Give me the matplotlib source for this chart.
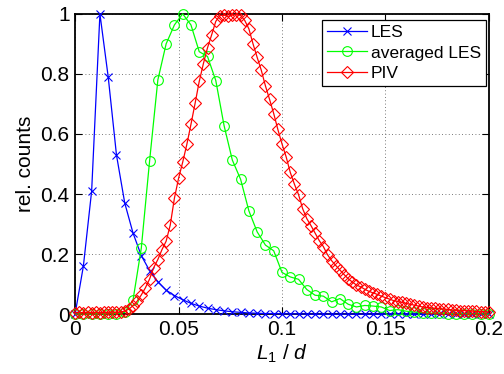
import numpy as np
import matplotlib
matplotlib.use("Agg")
import matplotlib.pyplot as plt
from matplotlib.ticker import FormatStrFormatter

plt.rcParams['font.family'] = ['Liberation Sans', 'DejaVu Sans']
plt.rcParams['mathtext.fontset'] = 'custom'
plt.rcParams['mathtext.rm'] = 'Liberation Sans'
plt.rcParams['mathtext.it'] = 'Liberation Sans:italic'

# LES and averaged LES sampled every 0.004, PIV every 0.002
x_les = np.linspace(0, 0.2, 51)
x_piv = np.linspace(0, 0.2, 101)

les = [0, 0.16, 0.41, 1.0, 0.79, 0.53, 0.37, 0.27, 0.195, 0.145,
       0.108, 0.08, 0.062, 0.048, 0.036, 0.027, 0.02, 0.015, 0.011, 0.008,
       0.006, 0.004, 0.003, 0.002, 0.002, 0.001, 0.001, 0.001, 0, 0,
       0, 0, 0, 0, 0, 0, 0, 0, 0, 0,
       0, 0, 0, 0, 0, 0, 0, 0, 0, 0, 0]

avg_les = [0, 0, 0, 0.001, 0.001, 0.002, 0.006, 0.047, 0.22, 0.51,
           0.78, 0.90, 0.963, 1.0, 0.963, 0.874, 0.858, 0.778, 0.628, 0.513,
           0.449, 0.344, 0.274, 0.23, 0.211, 0.139, 0.124, 0.116, 0.082, 0.063,
           0.06, 0.041, 0.052, 0.033, 0.024, 0.029, 0.027, 0.024, 0.012, 0.015,
           0.010, 0.007, 0.005, 0.003, 0.004, 0.002, 0.002, 0.001, 0.001, 0.001, 0]

piv = [0.005, 0.006, 0.005, 0.006, 0.005, 0.006, 0.005, 0.006, 0.006, 0.007,
       0.006, 0.007, 0.010, 0.017, 0.028, 0.043, 0.064, 0.088, 0.117, 0.155,
       0.182, 0.215, 0.243, 0.297, 0.386, 0.452, 0.506, 0.565, 0.632, 0.702,
       0.775, 0.834, 0.887, 0.930, 0.975, 0.994, 0.996, 0.992, 0.996, 0.997,
       0.995, 0.978, 0.950, 0.900, 0.855, 0.812, 0.760, 0.715, 0.668, 0.615,
       0.567, 0.524, 0.472, 0.433, 0.398, 0.351, 0.318, 0.295, 0.270, 0.245,
       0.225, 0.198, 0.178, 0.162, 0.147, 0.132, 0.118, 0.107, 0.097, 0.091,
       0.083, 0.076, 0.071, 0.066, 0.060, 0.055, 0.050, 0.045, 0.042, 0.039,
       0.036, 0.033, 0.030, 0.027, 0.024, 0.022, 0.021, 0.019, 0.018, 0.017,
       0.016, 0.014, 0.013, 0.012, 0.012, 0.011, 0.010, 0.009, 0.008, 0.008,
       0.007]

fig = plt.figure(figsize=(5.04, 3.74), dpi=100)
ax = fig.add_axes([0.149, 0.160, 0.821, 0.803])

ax.plot(x_les, les, color=(0, 0, 1), lw=0.9, marker='x', ms=6, mew=0.8,
        label='LES', clip_on=False, zorder=3)
ax.plot(x_les, avg_les, color=(0, 1, 0), lw=0.9, marker='o', ms=7, mew=0.8,
        mfc='none', label='averaged LES', clip_on=False, zorder=4)
ax.plot(x_piv, piv, color=(1, 0, 0), lw=0.9, marker='D', ms=6.5, mew=0.8,
        mfc='none', label='PIV', clip_on=False, zorder=5)

ax.set_xlim(0, 0.2)
ax.set_ylim(0, 1)
ax.set_xticks([0, 0.05, 0.1, 0.15, 0.2])
ax.set_yticks([0, 0.2, 0.4, 0.6, 0.8, 1])
ax.xaxis.set_major_formatter(FormatStrFormatter('%g'))
ax.yaxis.set_major_formatter(FormatStrFormatter('%g'))
ax.tick_params(direction='in', top=True, right=True, length=5, width=0.8,
               labelsize=15, pad=4)
ax.grid(True, color='0.3', linestyle=(0, (1, 3)), linewidth=0.6)
for s in ax.spines.values():
    s.set_linewidth(1.3)

ax.set_xlabel(r'$L_1$ / $d$', fontsize=15, labelpad=3)
ax.set_ylabel('rel. counts', fontsize=15, labelpad=4)

leg = ax.legend(loc='upper right', bbox_to_anchor=(0.993, 0.98), fontsize=12.5,
                fancybox=False, framealpha=1, edgecolor='black',
                handlelength=2.3, borderpad=0.3, labelspacing=0.3,
                handletextpad=0.2, borderaxespad=0)
leg.get_frame().set_linewidth(0.9)

fig.savefig('out.png', dpi=100)
